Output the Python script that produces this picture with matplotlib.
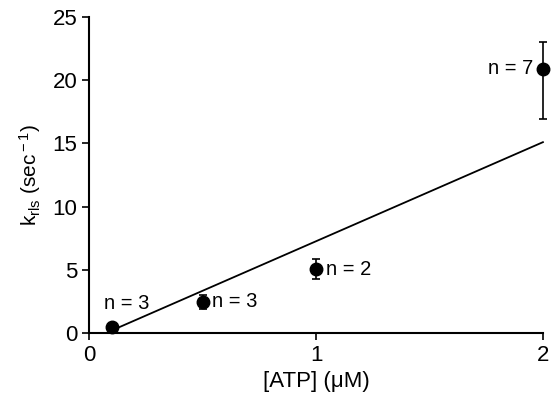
import numpy as np
import matplotlib.pyplot as plt

plt.rcParams['font.family'] = ['Liberation Sans', 'DejaVu Sans']
plt.rcParams['mathtext.fontset'] = 'custom'
plt.rcParams['mathtext.rm'] = 'Liberation Sans'
plt.rcParams['mathtext.it'] = 'Liberation Sans'

# data
atp = [0.1, 0.5, 1.0, 2.0]
k_rls = [0.5, 2.45, 5.05, 20.9]
err_low = [0.0, 0.55, 0.8, 4.0]
err_high = [0.0, 0.55, 0.8, 2.1]
n_labels = ["n = 3", "n = 3", "n = 2", "n = 7"]

# linear fit line
fit_x = [0.1, 2.0]
fit_y = [0.2, 15.1]

fig = plt.figure(figsize=(5.54, 4.07), dpi=100)
ax = fig.add_axes([0.161, 0.182, 0.819, 0.776])

ax.plot(fit_x, fit_y, color='black', lw=1.3, clip_on=False)
eb = ax.errorbar(atp, k_rls, yerr=[err_low, err_high], fmt='o', color='black',
                 markersize=9, capsize=3, elinewidth=1.2, capthick=1.2)
for artist in eb.lines[0:1] + eb.lines[1] + eb.lines[2]:
    artist.set_clip_on(False)

# n labels
offsets = [(-6, 10, 'left', 'bottom'), (7, 0, 'left', 'center'),
           (7, 0, 'left', 'center'), (-7, 0, 'right', 'center')]
for x, y, t, (dx, dy, ha, va) in zip(atp, k_rls, n_labels, offsets):
    ax.annotate(t, (x, y), xytext=(dx, dy), textcoords='offset points',
                ha=ha, va=va, fontsize=14.5)

ax.set_xlim(0, 2)
ax.set_ylim(0, 25)
ax.set_xticks([0, 1, 2])
ax.set_yticks(np.arange(0, 26, 5))
ax.spines['top'].set_visible(False)
ax.spines['right'].set_visible(False)
ax.spines['left'].set_linewidth(1.5)
ax.spines['bottom'].set_linewidth(1.5)
ax.tick_params(direction='out', length=5, width=1.2, labelsize=16)
ax.set_xlabel('[ATP] (μM)', fontsize=16, labelpad=4)
ax.set_ylabel(r'k$_{\rm rls}$ (sec$^{\rm -1}$)', fontsize=15, labelpad=7)

plt.savefig('out.png')
